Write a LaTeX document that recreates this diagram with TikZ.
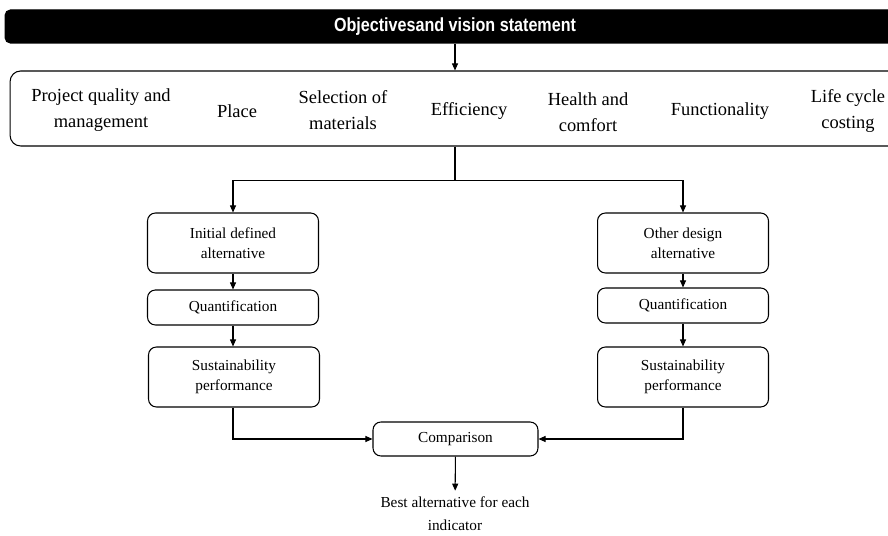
\documentclass[tikz,border=0pt]{standalone}
\usepackage{fontspec}
\setmainfont{Liberation Serif}
\newfontfamily\barfont[FakeStretch=0.85]{Liberation Sans}
\usetikzlibrary{arrows.meta}
\tikzset{
  arr/.style={-{Triangle[length=4pt,width=3.4pt]}},
  item/.style={align=center,font=\fontsize{10.5}{14.7}\selectfont},
  stepbox/.style={draw,rounded corners=4.5pt,minimum width=3.42cm,align=center,font=\fontsize{8.7}{11.3}\selectfont},
}
\begin{document}
\begin{tikzpicture}[x=0.02cm,y=-0.02cm,line width=0.6pt]
\useasboundingbox(0,0)rectangle(888,536);\clip(0,0)rectangle(888,536);
\node[draw,fill=black,rounded corners=3pt,minimum width=18cm,minimum height=0.66cm,text=white,font=\barfont\bfseries\fontsize{10.8}{13}\selectfont](top)at(455,26.5){Objectivesand vision statement};
\node[draw,rounded corners=6pt,minimum width=17.8cm,minimum height=1.5cm](crit)at(455,108.5){};
\foreach\x/\y/\t[count=\i]in{101/110/{Project quality and\\management},237/111/Place,343/110/{Selection of\\materials},469/111/Efficiency,588/112/{Health and\\comfort},720/111/Functionality,848/111/{Life cycle\\costing}}{\node[item](c\i)at(\x,\y){\t};}
\node[stepbox,minimum height=1.2cm](initL)at(233,243){Initial defined\\alternative};
\node[stepbox,minimum height=0.7cm](quantL)at(233,307.5){Quantification};
\node[stepbox,minimum height=1.2cm](sustL)at(234,377){Sustainability\\performance};
\node[stepbox,minimum height=1.2cm](initR)at(683,243){Other design\\alternative};
\node[stepbox,minimum height=0.7cm](quantR)at(683,305.5){Quantification};
\node[stepbox,minimum height=1.2cm](sustR)at(683,377){Sustainability\\performance};
\node[stepbox,minimum width=3.3cm,minimum height=0.68cm](comp)at(455.5,439){Comparison};
\node[align=center,font=\fontsize{8.7}{13}\selectfont](best)at(455,514){Best alternative for each\\indicator};
\draw[arr](top)--(crit);
\draw(crit.south)--++(0,34)coordinate(split);
\draw[arr](split)-|(initL);\draw[arr](split)-|(initR);
\draw[arr](initL)--(quantL);\draw[arr](quantL)--(sustL.north-|quantL);
\draw[arr](initR)--(quantR);\draw[arr](quantR)--(sustR);
\draw[arr](sustL.south-|initL)|-(comp);\draw[arr](sustR)|-(comp);
\draw[arr](comp)--(best);
\end{tikzpicture}
\end{document}
